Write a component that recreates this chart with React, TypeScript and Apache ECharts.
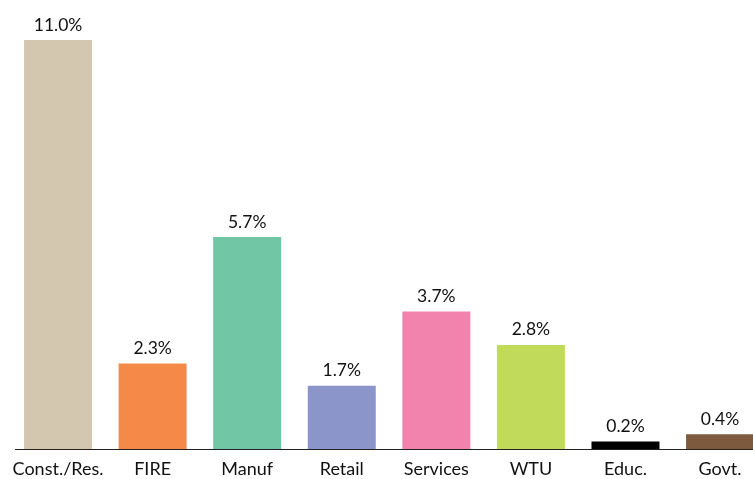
import React, { useEffect, useRef } from "react";
import * as echarts from "echarts";

const categories = ["Const./Res.", "FIRE", "Manuf", "Retail", "Services", "WTU", "Educ.", "Govt."];
const values = [11.0, 2.3, 5.7, 1.7, 3.7, 2.8, 0.2, 0.4];
const colors = ["#D3C7AF", "#F58A48", "#70C6A5", "#8B95C9", "#F283AD", "#C1DA5A", "#000000", "#7D5A3E"];

export default function App() {
  const ref = useRef<HTMLDivElement>(null);
  useEffect(() => {
    const chart = echarts.init(ref.current!, null, { renderer: "svg" });
    chart.setOption({
      animation: false,
      grid: { left: 10.75, width: 756.6, top: 40, bottom: 30, containLabel: false },
      xAxis: {
        type: "category",
        data: categories,
        axisLine: { show: false },
        axisTick: { show: false },
        axisLabel: { color: "#111", fontSize: 18, fontFamily: "Lato", margin: 10, interval: 0 },
      },
      yAxis: { type: "value", min: 0, max: 11, show: false, splitLine: { show: false } },
      graphic: [
        { type: "line", shape: { x1: 15, y1: 449.5, x2: 753, y2: 449.5 }, style: { stroke: "#222", lineWidth: 1.2 }, z: 10 },
      ],
      series: [
        {
          type: "bar",
          barWidth: 68,
          data: values.map((v, i) => ({ value: v, itemStyle: { color: colors[i] } })),
          label: {
            show: true,
            position: "top",
            distance: 7,
            formatter: (p: any) => p.value.toFixed(1) + "%",
            color: "#111",
            fontSize: 17.5,
            fontFamily: "Lato",
          },
        },
      ],
    });
    return () => chart.dispose();
  }, []);
  return (
    <div style={{ position: "fixed", left: 0, top: 0, width: 753, height: 479, overflow: "hidden" }}>
      <div ref={ref} style={{ width: 790, height: 479 }} />
    </div>
  );
}
